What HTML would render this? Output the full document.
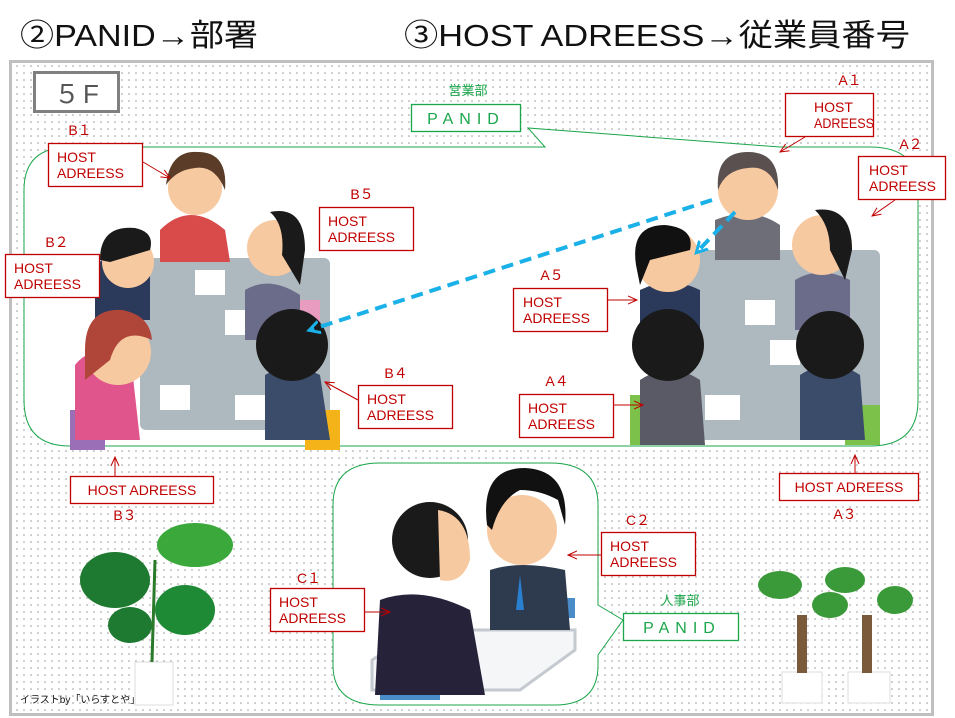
<!DOCTYPE html>
<html><head><meta charset="utf-8"><style>
html,body{margin:0;padding:0;background:#fff;width:955px;height:718px;overflow:hidden}
svg{display:block}
text{font-family:"Liberation Sans","Noto Sans CJK JP",sans-serif}
.r{fill:#c00000;font-size:14px}
.rb{fill:#fff;stroke:#c00000;stroke-width:1.3}
.ra{stroke:#c00000;stroke-width:1;fill:none}
.g{fill:#1aa64a}
</style></head><body>
<svg width="955" height="718" viewBox="0 0 955 718" xmlns="http://www.w3.org/2000/svg">
<defs>
<pattern id="dots" width="7" height="7" patternUnits="userSpaceOnUse"><rect width="7" height="7" fill="#fff"/><circle cx="3" cy="3" r="0.8" fill="#999"/></pattern>
<marker id="ar" markerWidth="10" markerHeight="10" refX="9" refY="5" orient="auto" markerUnits="userSpaceOnUse"><path d="M0,1 L9,5 L0,9" fill="none" stroke="#c00000" stroke-width="1"/></marker>
<marker id="ab" markerWidth="14" markerHeight="14" refX="10" refY="7" orient="auto" markerUnits="userSpaceOnUse"><path d="M0,1 L11,7 L0,13" fill="none" stroke="#1ab0e8" stroke-width="3"/></marker>
</defs>
<text x="20" y="46" font-size="31" fill="#111" textLength="238" lengthAdjust="spacingAndGlyphs">②PANID→部署</text>
<text x="404" y="46" font-size="31" fill="#111" textLength="506" lengthAdjust="spacingAndGlyphs">③HOST ADREESS→従業員番号</text>
<rect x="10.5" y="61.5" width="922" height="653" fill="url(#dots)" stroke="#bfbfbf" stroke-width="3"/>
<rect x="34.5" y="72.5" width="84" height="39" fill="#fff" stroke="#808080" stroke-width="3"/>
<text x="54" y="103" font-size="26" fill="#555" letter-spacing="3">５F</text>
<path d="M70,147 L545,147 L528,128 L780,147 L870,147 Q918,147 918,190 L918,400 Q918,446 870,446 L70,446 Q24,446 24,400 L24,190 Q24,147 70,147 Z" fill="#fff" stroke="#1aa64a" stroke-width="1"/>
<path d="M380,463 L550,463 Q598,463 598,505 L598,605 L623,620 L598,655 L598,665 Q598,705 555,705 L380,705 Q333,705 333,665 L333,505 Q333,463 380,463 Z" fill="#fff" stroke="#1aa64a" stroke-width="1"/>
<rect x="411.5" y="104.5" width="109" height="27" fill="#fff" stroke="#1aa64a" stroke-width="1.3"/>
<text x="466" y="124" font-size="16" class="g" text-anchor="middle" letter-spacing="6">PANID</text>
<text x="468" y="95" font-size="13" class="g" text-anchor="middle">営業部</text>
<rect x="623.5" y="613.5" width="115" height="27" fill="#fff" stroke="#1aa64a" stroke-width="1.3"/>
<text x="682" y="633" font-size="16" class="g" text-anchor="middle" letter-spacing="6">PANID</text>
<text x="680" y="605" font-size="13" class="g" text-anchor="middle">人事部</text>
<rect x="140" y="258" width="190" height="172" fill="#aeb8bf" rx="6"/>
<rect x="195" y="270" width="30" height="25" fill="#fff"/><rect x="225" y="310" width="30" height="25" fill="#fff"/><rect x="235" y="395" width="35" height="25" fill="#fff"/><rect x="160" y="385" width="30" height="25" fill="#fff"/>
<rect x="70" y="410" width="35" height="40" fill="#9b6fb8"/><rect x="305" y="410" width="35" height="40" fill="#f5b31a"/>
<rect x="290" y="300" width="30" height="30" fill="#e89cc0"/>
<path d="M160,230 Q190,200 225,230 L230,262 L160,262Z" fill="#d94a4a"/>
<circle cx="195" cy="188" r="27" fill="#f7c9a0"/><path d="M166,185 Q170,150 198,152 Q228,152 225,190 Q215,165 195,168 Q176,170 166,185Z" fill="#5a3c28"/>
<path d="M95,265 Q120,245 150,268 L150,320 L95,320Z" fill="#2b3a5a"/>
<circle cx="128" cy="262" r="26" fill="#f7c9a0"/><path d="M100,260 Q100,225 135,228 Q155,232 150,250 L110,262Z" fill="#1a1a1a"/>
<path d="M245,290 Q270,275 300,295 L300,340 L245,340Z" fill="#6b6b8a"/>
<circle cx="275" cy="248" r="28" fill="#f7c9a0"/><path d="M270,212 Q305,205 305,250 L300,285 L282,255 Q285,225 270,212Z" fill="#1a1a1a"/>
<path d="M75,365 Q90,345 130,350 L140,440 L75,440Z" fill="#e0568c"/>
<circle cx="118" cy="352" r="33" fill="#f7c9a0"/><path d="M85,350 Q85,308 122,310 Q150,315 152,340 Q120,325 110,360 L85,380Z" fill="#b0453a"/>
<path d="M265,375 Q290,360 320,375 L330,440 L265,440Z" fill="#3a4c6a"/>
<circle cx="292" cy="345" r="36" fill="#1a1a1a"/>
<rect x="660" y="250" width="220" height="190" fill="#aeb8bf" rx="6"/>
<rect x="745" y="300" width="30" height="25" fill="#fff"/><rect x="770" y="340" width="30" height="25" fill="#fff"/><rect x="705" y="395" width="35" height="25" fill="#fff"/>
<rect x="630" y="395" width="35" height="50" fill="#7cc24a"/><rect x="845" y="405" width="35" height="40" fill="#7cc24a"/>
<path d="M715,220 Q750,205 780,225 L780,260 L715,260Z" fill="#6e6e78"/>
<circle cx="748" cy="190" r="30" fill="#f7c9a0"/><path d="M718,190 Q715,152 748,152 Q780,152 778,190 Q770,165 748,168 Q725,170 718,190Z" fill="#5a5050"/>
<path d="M640,290 Q670,275 700,290 L700,340 L640,340Z" fill="#2b3a5a"/>
<circle cx="668" cy="260" r="32" fill="#f7c9a0"/><path d="M636,265 Q630,225 665,225 Q695,228 690,250 L650,260 L640,285Z" fill="#111"/>
<path d="M795,280 Q820,265 850,280 L850,330 L795,330Z" fill="#6b6b8a"/>
<circle cx="822" cy="245" r="30" fill="#f7c9a0"/><path d="M815,210 Q852,205 852,250 L845,280 L830,250 Q830,225 815,210Z" fill="#1a1a1a"/>
<path d="M640,380 Q670,360 700,380 L705,445 L640,445Z" fill="#5a5a66"/>
<circle cx="668" cy="345" r="36" fill="#1a1a1a"/>
<path d="M800,375 Q830,355 860,375 L865,440 L800,440Z" fill="#3a4c6a"/>
<circle cx="830" cy="345" r="34" fill="#1a1a1a"/>
<path d="M372,660 L420,630 L575,630 L575,650 L520,690 L372,690Z" fill="#f4f6f7" stroke="#c5cad0" stroke-width="3"/>
<rect x="380" y="665" width="60" height="35" fill="#4a8cc8"/><rect x="560" y="598" width="15" height="20" fill="#4a8cc8"/>
<path d="M490,570 Q520,560 565,570 L570,630 L490,630Z" fill="#2e3a4e"/>
<path d="M520,575 L524,610 L516,610Z" fill="#2a7fd0"/>
<circle cx="522" cy="530" r="35" fill="#f7c9a0"/><path d="M487,525 Q480,468 525,468 Q570,470 565,525 L558,500 Q540,490 520,490 Q500,500 492,530Z" fill="#111"/>
<path d="M380,600 Q420,585 470,610 L485,695 L375,695Z" fill="#26223a"/>
<circle cx="430" cy="540" r="38" fill="#1a1a1a"/><path d="M438,510 Q470,515 470,560 Q462,585 440,580Z" fill="#f7c9a0"/>
<rect x="135" y="662" width="38" height="43" fill="#fff" stroke="#ddd"/>
<path d="M152,662 L155,560" stroke="#2b7a2b" stroke-width="3"/>
<ellipse cx="115" cy="580" rx="35" ry="28" fill="#1e7a30"/><ellipse cx="195" cy="545" rx="38" ry="22" fill="#3aa83a"/><ellipse cx="185" cy="610" rx="30" ry="25" fill="#1e8a35"/><ellipse cx="130" cy="625" rx="22" ry="18" fill="#1e7a30"/>
<rect x="782" y="672" width="40" height="31" fill="#fff" stroke="#ddd"/><rect x="848" y="672" width="42" height="31" fill="#fff" stroke="#ddd"/>
<rect x="797" y="615" width="10" height="58" fill="#7a5a3a"/><rect x="862" y="615" width="10" height="58" fill="#7a5a3a"/>
<ellipse cx="780" cy="585" rx="22" ry="14" fill="#3a9a3a"/><ellipse cx="830" cy="605" rx="18" ry="13" fill="#3a9a3a"/><ellipse cx="845" cy="580" rx="20" ry="13" fill="#3a9a3a"/><ellipse cx="895" cy="600" rx="18" ry="14" fill="#3a9a3a"/>
<text x="20" y="703" font-size="10" fill="#111">イラストby「いらすとや」</text>
<line x1="712" y1="200" x2="310" y2="330" stroke="#1ab0e8" stroke-width="4" stroke-dasharray="12,7" marker-end="url(#ab)"/>
<line x1="735" y1="212" x2="697" y2="252" stroke="#1ab0e8" stroke-width="4" stroke-dasharray="12,7" marker-end="url(#ab)"/>
<g>
<text x="80" y="135" class="r" text-anchor="middle">B１</text>
<rect x="48.5" y="143.5" width="94" height="43" class="rb"/><text x="57" y="162" class="r">HOST</text><text x="57" y="178" class="r">ADREESS</text>
<line x1="143" y1="162" x2="170" y2="178" class="ra" marker-end="url(#ar)"/>
<text x="57" y="247" class="r" text-anchor="middle">B２</text>
<rect x="5.5" y="254.5" width="94" height="43" class="rb"/><text x="14" y="273" class="r">HOST</text><text x="14" y="289" class="r">ADREESS</text>
<text x="362" y="199" class="r" text-anchor="middle">B５</text>
<rect x="319.5" y="207.5" width="94" height="43" class="rb"/><text x="328" y="226" class="r">HOST</text><text x="328" y="242" class="r">ADREESS</text>
<text x="396" y="378" class="r" text-anchor="middle">B４</text>
<rect x="358.5" y="385.5" width="94" height="43" class="rb"/><text x="367" y="404" class="r">HOST</text><text x="367" y="420" class="r">ADREESS</text>
<line x1="358" y1="400" x2="325" y2="382" class="ra" marker-end="url(#ar)"/>
<rect x="70.5" y="476.5" width="143" height="27" class="rb"/><text x="142" y="495" class="r" text-anchor="middle">HOST ADREESS</text>
<line x1="115" y1="476" x2="115" y2="457" class="ra" marker-end="url(#ar)"/>
<text x="125" y="520" class="r" text-anchor="middle">B３</text>
<text x="850" y="85" class="r" text-anchor="middle">A１</text>
<rect x="785.5" y="93.5" width="88" height="43" class="rb"/><text x="814" y="112" class="r">HOST</text><text x="814" y="128" class="r" textLength="60" lengthAdjust="spacingAndGlyphs">ADREESS</text>
<line x1="805" y1="137" x2="780" y2="152" class="ra" marker-end="url(#ar)"/>
<text x="911" y="149" class="r" text-anchor="middle">A２</text>
<rect x="858.5" y="156.5" width="87" height="43" class="rb"/><text x="869" y="175" class="r">HOST</text><text x="869" y="191" class="r">ADREESS</text>
<line x1="895" y1="200" x2="872" y2="216" class="ra" marker-end="url(#ar)"/>
<text x="552" y="280" class="r" text-anchor="middle">A５</text>
<rect x="513.5" y="288.5" width="94" height="43" class="rb"/><text x="523" y="307" class="r">HOST</text><text x="523" y="323" class="r">ADREESS</text>
<line x1="608" y1="300" x2="637" y2="300" class="ra" marker-end="url(#ar)"/>
<text x="557" y="386" class="r" text-anchor="middle">A４</text>
<rect x="519.5" y="394.5" width="94" height="43" class="rb"/><text x="528" y="413" class="r">HOST</text><text x="528" y="429" class="r">ADREESS</text>
<line x1="614" y1="405" x2="643" y2="405" class="ra" marker-end="url(#ar)"/>
<rect x="779.5" y="473.5" width="139" height="27" class="rb"/><text x="849" y="492" class="r" text-anchor="middle">HOST ADREESS</text>
<line x1="855" y1="473" x2="855" y2="455" class="ra" marker-end="url(#ar)"/>
<text x="845" y="519" class="r" text-anchor="middle">A３</text>
<text x="638" y="525" class="r" text-anchor="middle">C２</text>
<rect x="601.5" y="532.5" width="94" height="43" class="rb"/><text x="610" y="551" class="r">HOST</text><text x="610" y="567" class="r">ADREESS</text>
<line x1="601" y1="555" x2="568" y2="555" class="ra" marker-end="url(#ar)"/>
<text x="309" y="583" class="r" text-anchor="middle">C１</text>
<rect x="270.5" y="588.5" width="94" height="43" class="rb"/><text x="279" y="607" class="r">HOST</text><text x="279" y="623" class="r">ADREESS</text>
<line x1="365" y1="612" x2="390" y2="612" class="ra" marker-end="url(#ar)"/>
</g>
</svg>
</body></html>
